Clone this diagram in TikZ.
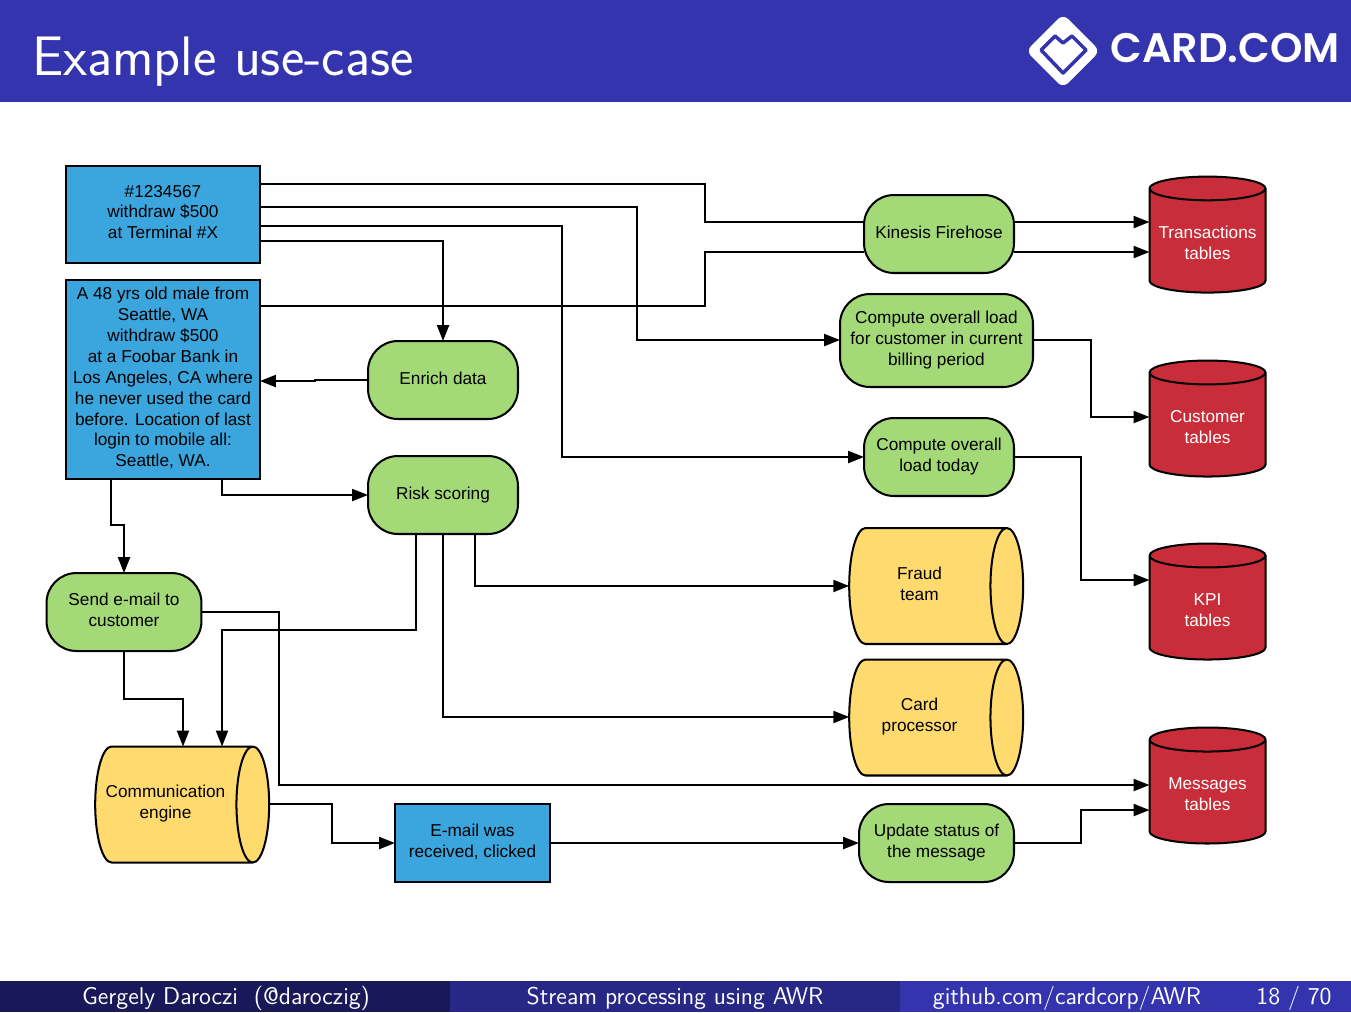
\documentclass[tikz,border=0pt]{standalone}
\usepackage{fontspec}
\setmainfont{Liberation Sans}
\usetikzlibrary{shapes.geometric,arrows.meta}
\definecolor{hdrblue}{HTML}{3434AF}
\definecolor{footdark}{HTML}{191959}
\definecolor{footmid}{HTML}{272786}
\definecolor{boxblue}{HTML}{3AA6DD}
\definecolor{boxgreen}{HTML}{A3D977}
\definecolor{boxyellow}{HTML}{FFDA6E}
\definecolor{boxred}{HTML}{C92D39}
\newcommand{\qgap}{\hspace*{9.1pt}}
\begin{document}
\begin{tikzpicture}[x=0.02cm,y=-0.02cm,line width=1.15pt,
  font=\fontsize{9.8pt}{11.9pt}\selectfont,
  every node/.style={align=center,inner sep=0pt,outer sep=0pt},
  lifted/.style={execute at begin node={\rule{0pt}{8.3pt}},execute at end node={\rule[-2.9pt]{0pt}{2.9pt}}},
  sunk/.style={execute at begin node={\rule{0pt}{11pt}},execute at end node={\rule[-1.2pt]{0pt}{1.2pt}}},
  event/.style={rectangle,draw,fill=boxblue,lifted},
  job/.style={rectangle,draw,fill=boxgreen,rounded corners=0.6cm,lifted},
  queue/.style={cylinder,draw,fill=boxyellow,aspect=0.85,minimum width=2.32cm,minimum height=3.48cm,lifted},
  store/.style={cylinder,shape border rotate=90,draw,fill=boxred,minimum width=2.32cm,minimum height=2.32cm,sunk},
  storetext/.style={text=white},
  foot/.style={text=white,font=\sffamily\fontsize{13.8pt}{15pt}\selectfont},
  flow/.style={-{Triangle[length=9pt,width=6.8pt]}}]
\useasboundingbox (0,0) rectangle (1351,1012);
% header and footer
\fill[hdrblue] (0,0) rectangle (1351,102);
\fill[footdark] (0,981) rectangle (450,1012);
\fill[footmid] (450,981) rectangle (900,1012);
\fill[hdrblue] (900,981) rectangle (1351,1012);
\node (title) [anchor=west,text=white,font=\sffamily\fontsize{31.7pt}{34pt}\selectfont] at (32,62) {Example use-case};
\node (author) [foot] at (226,998) {Gergely Daroczi\ \ (@daroczig)};
\node (talk) [foot] at (675,998) {Stream processing using AWR};
\node (repo) [foot] at (1067,998) {github.com/cardcorp/AWR};
\node (page) [foot] at (1294,998) {18 / 70};
% logo
\fill[white,rounded corners=4pt] (1063,14) -- (1100,51) -- (1063,88) -- (1026,51) -- cycle;
\draw[hdrblue,line width=2pt,line join=round] (1041,50) -- (1055,36) -- (1063,43) -- (1072,36) -- (1086,50) -- (1063,73) -- cycle;
\node (brand) [anchor=west,text=white,font=\fontspec{Poppins SemiBold}\fontsize{23.5pt}{25pt}\selectfont] at (1110.5,48) {CARD.COM};
% boxes
\node[event] (card) [minimum width=3.88cm,minimum height=1.94cm] at (163,214.5) {\#1234567\\withdraw \$500\\at Terminal \#X};
\node[event] (demo) [minimum width=3.88cm,minimum height=3.98cm] at (163,379.5) {A 48 yrs old male from\\Seattle, WA\\withdraw \$500\\at a Foobar Bank in\\Los Angeles, CA where\\he never used the card\\before. Location of last\\login to mobile all:\\Seattle, WA.};
\node[job] (enrich) [minimum width=3cm,minimum height=1.56cm] at (443,380) {Enrich data};
\node[job] (risk) [minimum width=3cm,minimum height=1.56cm] at (443,495) {Risk scoring};
\node[job] (firehose) [minimum width=3cm,minimum height=1.56cm] at (939,234) {Kinesis Firehose};
\node[job] (load) [minimum width=3.86cm,minimum height=1.86cm] at (936.5,340.5) {Compute overall load\\for customer in current\\billing period};
\node[job] (today) [minimum width=3cm,minimum height=1.56cm] at (939,457) {Compute overall\\load today};
\node[job] (send) [minimum width=3.1cm,minimum height=1.56cm] at (124,612) {Send e-mail to\\customer};
\node[job] (update) [minimum width=3.1cm,minimum height=1.56cm] at (936.5,843) {Update status of\\the message};
\node[event] (email) [minimum width=3.1cm,minimum height=1.56cm] at (472.5,843) {E-mail was\\received, clicked};
\node[queue] (fraud) at (927.5,586) {Fraud\qgap\\team\qgap};
\node[queue] (proc) at (927.5,717.5) {Card\qgap\\processor\qgap};
\node[queue] (comm) at (173.5,804.5) {\makebox[0pt]{Communication}\qgap\\\makebox[0pt]{engine}\qgap};
\node[store,aspect=0.242] (trans) at (1207.5,241) {\phantom{Transactions}\\\phantom{tables}};
\node[store,aspect=0.32] (cust) at (1207.5,425) {\phantom{Customer}\\\phantom{tables}};
\node[store,aspect=0.52] (kpi) at (1207.5,608) {\phantom{KPI}\\\phantom{tables}};
\node[store,aspect=0.306] (msg) at (1207.5,792) {\phantom{Messages}\\\phantom{tables}};
\node[storetext] (translabel) at (1207.5,242.5) {Transactions\\tables};
\node[storetext] (custlabel) at (1207.5,427.5) {Customer\\tables};
\node[storetext] (kpilabel) at (1207.5,610.5) {KPI\\tables};
\node[storetext] (msglabel) at (1207.5,794.5) {Messages\\tables};
% connectors
\draw (card.east |- 0,184) -| (705,222) -- (firehose.west |- 0,222);
\draw (demo.east |- 0,306) -| (705,252) -- (firehose.west |- 0,252);
\draw[flow] (card.east |- 0,207) -| (637,340) -- (load.west |- 0,340);
\draw[flow] (card.east |- 0,226) -| (562,457) -- (today.west);
\draw[flow] (card.east |- 0,241) -| (enrich.north);
\draw[flow] (firehose.east |- 0,222) -- (trans.west |- 0,222);
\draw[flow] (firehose.east |- 0,252) -- (trans.west |- 0,252);
\draw[flow] (load.east |- 0,340) -| (1091,417) -- (cust.west |- 0,417);
\draw[flow] (today.east) -| (1081,580) -- (kpi.west |- 0,580);
\draw[flow] (enrich.west) -- (315,380) -- (315,381) -- (demo.east |- 0,381);
\draw[flow] (demo.south -| 222,0) |- (risk.west);
\draw[flow] (demo.south -| 111,0) |- (124,525) -- (send.north);
\draw[flow] (risk.south -| 475,0) |- (fraud.west |- 0,586);
\draw[flow] (risk.south) |- (proc.west |- 0,717);
\draw[flow] (risk.south -| 416,0) |- (222,630) -- (comm.north -| 222,0);
\draw[flow] (send.south) |- (183,699) -- (comm.north -| 183,0);
\draw[flow] (send.east) -| (279,785) -- (msg.west |- 0,785);
\draw[flow] (comm.east |- 0,804) -| (332,843) -- (email.west);
\draw[flow] (email.east) -- (update.west);
\draw[flow] (update.east) -| (1081,810) -- (msg.west |- 0,810);
\end{tikzpicture}
\end{document}
